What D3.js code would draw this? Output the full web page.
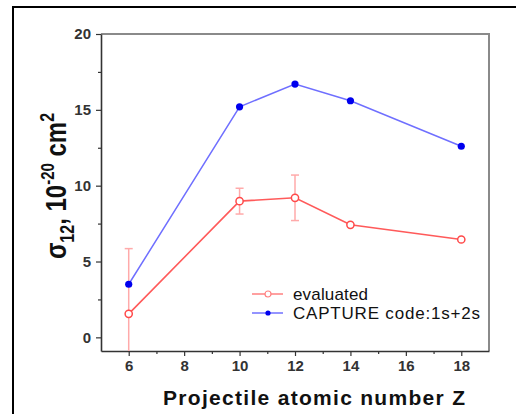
<!DOCTYPE html>
<html>
<head>
<meta charset="utf-8">
<script src="https://cdn.jsdelivr.net/npm/d3@7"></script>
<style>
  body { margin: 0; background: #fff; }
  svg { display: block; }
</style>
</head>
<body>
<script>
const zValues = [6, 10, 12, 14, 18]
const evaluated = [1.55, 8.98, 9.2, 7.42, 6.45]
const evaluatedErr = [4.3, 0.85, 1.5, 0, 0]
const capture = [3.5, 15.2, 16.7, 15.6, 12.6]

const xTicks = [6, 8, 10, 12, 14, 16, 18]
const xMinor = [7, 9, 11, 13, 15, 17]
const yTicks = [0, 5, 10, 15, 20]
const yMinor = [2.5, 7.5, 12.5, 17.5]

const legendLabels = ["evaluated", "CAPTURE code:1s+2s"]

const width = 520
const height = 414
const plotLeft = 101, plotRight = 489, plotTop = 34, plotBottom = 351

const svg = d3.select("body")
    .append("svg")
    .attr("width", width)
    .attr("height", height)

// outer frame (only top and left edges visible)
svg.append("path")
    .attr("d", `M13,414 L13,7 L516,7`)
    .attr("fill", "none")
    .attr("stroke", "#000")
    .attr("stroke-width", 2)

const x = d3.scaleLinear().domain([5, 19]).range([plotLeft, plotRight])
const y = d3.scaleLinear().domain([-0.9, 20]).range([plotBottom, plotTop])

const font = "Liberation Sans, Arial, sans-serif"

// top and right border, grey
svg.append("path")
    .attr("d", `M${plotLeft},${plotTop} L${plotRight},${plotTop} L${plotRight},${plotBottom}`)
    .attr("fill", "none")
    .attr("stroke", "#8a8a8a")
    .attr("stroke-width", 2)

// axes
const xAxis = svg.append("g")
    .attr("transform", `translate(0,${plotBottom})`)
    .call(d3.axisBottom(x).tickValues(xTicks).tickSize(5).tickSizeOuter(0).tickPadding(6))
svg.append("g")
    .attr("transform", `translate(0,${plotBottom})`)
    .call(d3.axisBottom(x).tickValues(xMinor).tickSize(3).tickSizeOuter(0).tickFormat(""))
    .call(g => g.select(".domain").remove())

const yAxis = svg.append("g")
    .attr("transform", `translate(${plotLeft},0)`)
    .call(d3.axisLeft(y).tickValues(yTicks).tickSize(5).tickSizeOuter(0).tickPadding(5))
svg.append("g")
    .attr("transform", `translate(${plotLeft},0)`)
    .call(d3.axisLeft(y).tickValues(yMinor).tickSize(3).tickSizeOuter(0).tickFormat(""))
    .call(g => g.select(".domain").remove())

svg.selectAll(".domain").attr("stroke", "#333").attr("stroke-width", 1.6)
svg.selectAll(".tick line").attr("stroke", "#333").attr("stroke-width", 1.2)
svg.selectAll(".tick text")
    .attr("font-family", font)
    .attr("font-weight", "bold")
    .attr("font-size", 15)
    .attr("fill", "#333")
xAxis.selectAll(".tick text").attr("dy", "0.76em").attr("y", 9)

// axis titles
svg.append("text")
    .attr("x", 314)
    .attr("y", 405)
    .attr("text-anchor", "middle")
    .attr("font-family", font)
    .attr("font-weight", "bold")
    .attr("font-size", 21)
    .attr("textLength", 302)
    .attr("fill", "#111")
    .text("Projectile atomic number Z")

const yTitle = svg.append("text")
    .attr("transform", "translate(66,186) rotate(-90) scale(1,1.25)")
    .attr("text-anchor", "middle")
    .attr("font-family", font)
    .attr("font-weight", "bold")
    .attr("font-size", 24)
    .attr("fill", "#111")
yTitle.append("tspan").text("σ")
yTitle.append("tspan").attr("font-size", 16).attr("dy", 6).text("12")
yTitle.append("tspan").attr("dy", -6).text(", 10")
yTitle.append("tspan").attr("font-size", 15).attr("dy", -10).text("-20")
yTitle.append("tspan").attr("dy", 10).text(" cm")
yTitle.append("tspan").attr("font-size", 16).attr("dy", -10).text("2")

const evalData = zValues.map((z, i) => ({z: z, v: evaluated[i], e: evaluatedErr[i]}))
const capData = zValues.map((z, i) => ({z: z, v: capture[i]}))

const line = d3.line().x(d => x(d.z)).y(d => y(d.v))

// error bars, clamped to the visible y range
const yMin = y.domain()[0]
const bars = svg.append("g")
    .selectAll("g")
    .data(evalData.filter(d => d.e > 0))
    .join("g")
    .attr("stroke", "#ffaaaa")
    .attr("stroke-width", 1.5)
bars.append("line")
    .attr("x1", d => x(d.z)).attr("x2", d => x(d.z))
    .attr("y1", d => y(Math.max(yMin, d.v - d.e)))
    .attr("y2", d => y(d.v + d.e))
bars.append("line")
    .attr("x1", d => x(d.z) - 4).attr("x2", d => x(d.z) + 4)
    .attr("y1", d => y(d.v + d.e)).attr("y2", d => y(d.v + d.e))
bars.filter(d => d.v - d.e > yMin)
    .append("line")
    .attr("x1", d => x(d.z) - 4).attr("x2", d => x(d.z) + 4)
    .attr("y1", d => y(d.v - d.e)).attr("y2", d => y(d.v - d.e))

svg.append("path")
    .datum(capData)
    .attr("d", line)
    .attr("fill", "none")
    .attr("stroke", "#6f6fff")
    .attr("stroke-width", 1.5)

svg.append("path")
    .datum(evalData)
    .attr("d", line)
    .attr("fill", "none")
    .attr("stroke", "#ff5a5a")
    .attr("stroke-width", 1.6)

svg.append("g")
    .selectAll("circle")
    .data(capData)
    .join("circle")
    .attr("cx", d => x(d.z))
    .attr("cy", d => y(d.v))
    .attr("r", 3.6)
    .attr("fill", "#0000ee")

svg.append("g")
    .selectAll("circle")
    .data(evalData)
    .join("circle")
    .attr("cx", d => x(d.z))
    .attr("cy", d => y(d.v))
    .attr("r", 3.6)
    .attr("fill", "#fff")
    .attr("stroke", "#ff4a4a")
    .attr("stroke-width", 1.5)

// legend
const legendY = [294, 313]
const legend = svg.append("g")
    .selectAll("g")
    .data(legendLabels)
    .join("g")
    .attr("transform", (d, i) => `translate(252,${legendY[i]})`)
legend.append("line")
    .attr("x1", 0).attr("x2", 31)
    .attr("stroke", (d, i) => i === 0 ? "#ff8080" : "#7070ff")
    .attr("stroke-width", 1.5)
legend.append("circle")
    .attr("cx", 16)
    .attr("r", (d, i) => i === 0 ? 3 : 2.6)
    .attr("fill", (d, i) => i === 0 ? "#fff" : "#0000ee")
    .attr("stroke", (d, i) => i === 0 ? "#ff8080" : "none")
    .attr("stroke-width", 1.2)
legend.append("text")
    .attr("x", 41)
    .attr("dy", "0.36em")
    .attr("font-family", font)
    .attr("font-size", 17)
    .attr("fill", "#111")
    .attr("textLength", (d, i) => i === 0 ? 75 : 187)
    .text(d => d)
</script>
</body>
</html>
